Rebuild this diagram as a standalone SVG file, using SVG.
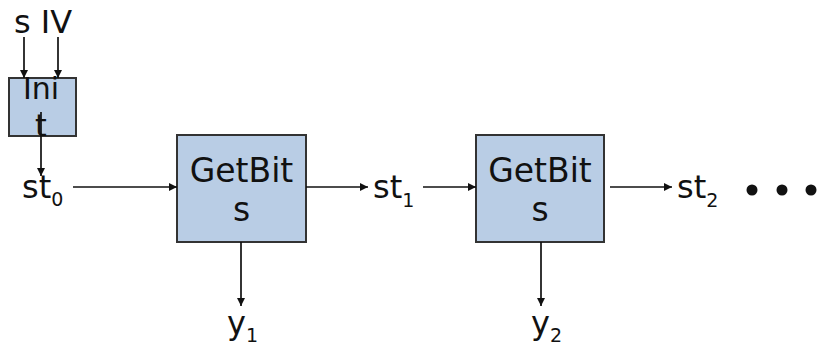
<svg xmlns="http://www.w3.org/2000/svg" width="819" height="345" viewBox="0 0 819 345">
<defs>
<style>
.box{fill:#b9cde5;stroke:#333;stroke-width:2}
.t{font-family:"DejaVu Sans",sans-serif;fill:#111}
.big{font-size:32px}
.gb{font-size:33px}
.sm{font-size:30px}
.sub{font-size:19px}
.c line{stroke:#111;stroke-width:1.7;marker-end:url(#ah)}
</style>
<marker id="ah" viewBox="0 0 10 10" refX="10" refY="5" markerWidth="8" markerHeight="8" markerUnits="userSpaceOnUse" orient="auto">
<path d="M0,0 L10,5 L0,10 z" fill="#111"/>
</marker>
</defs>
<rect width="819" height="345" fill="#fff"/>
<g id="inputs">
<text class="t big" x="14" y="33">s IV</text>
</g>
<g id="init">
<rect class="box" x="9" y="78" width="67" height="58"/>
<text class="t sm" x="41" y="99" text-anchor="middle">Ini</text>
<text class="t sm" x="41" y="136" text-anchor="middle">t</text>
</g>
<g id="getbits1">
<rect class="box" x="177" y="135" width="129" height="107"/>
<text class="t gb" x="241.5" y="182" text-anchor="middle">GetBit</text>
<text class="t gb" x="241.5" y="221" text-anchor="middle">s</text>
</g>
<g id="getbits2">
<rect class="box" x="476" y="135" width="128" height="107"/>
<text class="t gb" x="540" y="182" text-anchor="middle">GetBit</text>
<text class="t gb" x="540" y="221" text-anchor="middle">s</text>
</g>
<g id="st0"><text class="t big" x="22" y="198">st<tspan class="sub" dy="8">0</tspan></text></g>
<g id="st1"><text class="t big" x="373" y="198">st<tspan class="sub" dy="9">1</tspan></text></g>
<g id="st2"><text class="t big" x="677" y="198">st<tspan class="sub" dy="9">2</tspan></text></g>
<g id="y1"><text class="t big" x="227" y="334">y<tspan class="sub" dy="8">1</tspan></text></g>
<g id="y2"><text class="t big" x="531" y="334">y<tspan class="sub" dy="8">2</tspan></text></g>
<g id="dots" fill="#111">
<circle cx="752" cy="190" r="5.5"/>
<circle cx="782" cy="190" r="5.5"/>
<circle cx="811" cy="190" r="5.5"/>
</g>
<g class="c" id="connectors">
<line x1="24" y1="37" x2="24" y2="78"/>
<line x1="58" y1="37" x2="58" y2="78"/>
<line x1="41" y1="112" x2="41" y2="176"/>
<line x1="73" y1="187" x2="177" y2="187"/>
<line x1="306" y1="187" x2="368" y2="187"/>
<line x1="423" y1="187" x2="476" y2="187"/>
<line x1="610" y1="187" x2="672" y2="187"/>
<line x1="241" y1="242" x2="241" y2="306"/>
<line x1="541" y1="242" x2="541" y2="306"/>
</g>
</svg>
